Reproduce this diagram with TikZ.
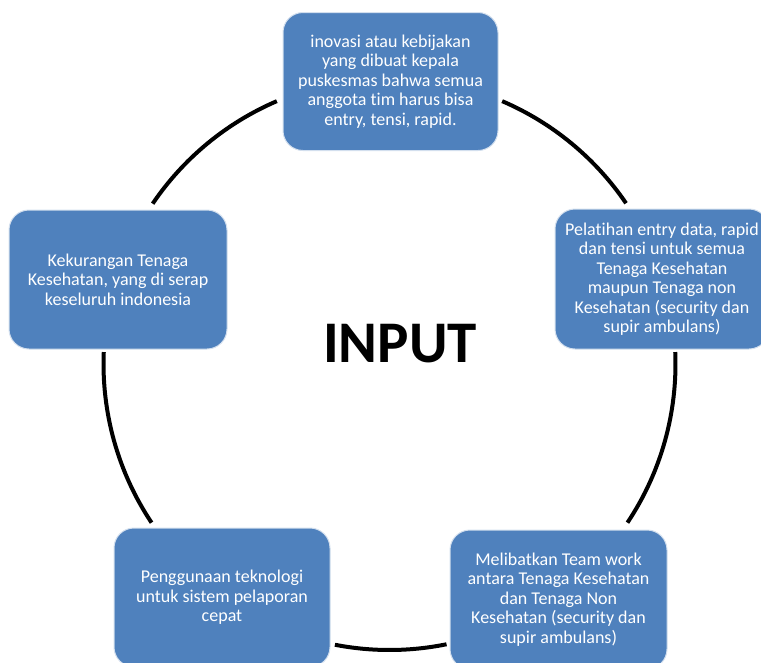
\documentclass[tikz,border=0pt]{standalone}
\usepackage{fontspec}
\setmainfont{Carlito}[Ligatures=NoCommon]
\definecolor{boxblue}{HTML}{4F81BD}
\begin{document}
\begin{tikzpicture}[x=1pt,y=1pt,
  cbox/.style={draw=white!75!boxblue, line width=1pt, fill=boxblue, rounded corners=20pt,
    inner sep=0pt, align=center, text=white,
    font=\fontsize{18}{19.5}\selectfont},
  ring/.style={line width=4pt, black}]
\clip (0,0) rectangle (761,-662);
\coordinate (c) at (389.5,-364);
\node[cbox, minimum width=215pt, minimum height=138pt] (top) at (390.5,-81.5)
  {inovasi atau kebijakan\\yang dibuat kepala\\puskesmas bahwa semua\\anggota tim harus bisa\\entry, tensi, rapid.};
\node[cbox, minimum width=214pt, minimum height=140pt] (right) at (662,-279)
  {Pelatihan entry data, rapid\\dan tensi untuk semua\\Tenaga Kesehatan\\maupun Tenaga non\\Kesehatan (security dan\\supir ambulans)};
\node[cbox, minimum width=218pt, minimum height=139pt] (left) at (118,-279.5)
  {Kekurangan Tenaga\\Kesehatan, yang di serap\\keseluruh indonesia};
\node[cbox, minimum width=216pt, minimum height=139pt] (bl) at (222,-597.5)
  {Penggunaan teknologi\\untuk sistem pelaporan\\cepat};
\node[cbox, minimum width=217pt, minimum height=139pt] (br) at (558.5,-599.5)
  {Melibatkan Team work\\antara Tenaga Kesehatan\\dan Tenaga Non\\Kesehatan (security dan\\supir ambulans)};
\node[font=\fontsize{59}{60}\selectfont\bfseries] (input) at (400,-344) {INPUT};
\draw[ring] (c) ++(66.8:286) arc[start angle=66.8, end angle=34.2, radius=286];
\draw[ring] (c) ++(2.4:286) arc[start angle=2.4, end angle=-33.7, radius=286];
\draw[ring] (c) ++(-78.5:286) arc[start angle=-78.5, end angle=-101, radius=286];
\draw[ring] (c) ++(-146.3:286) arc[start angle=-146.3, end angle=-182.4, radius=286];
\draw[ring] (c) ++(145.9:286) arc[start angle=145.9, end angle=113.2, radius=286];
\end{tikzpicture}
\end{document}
